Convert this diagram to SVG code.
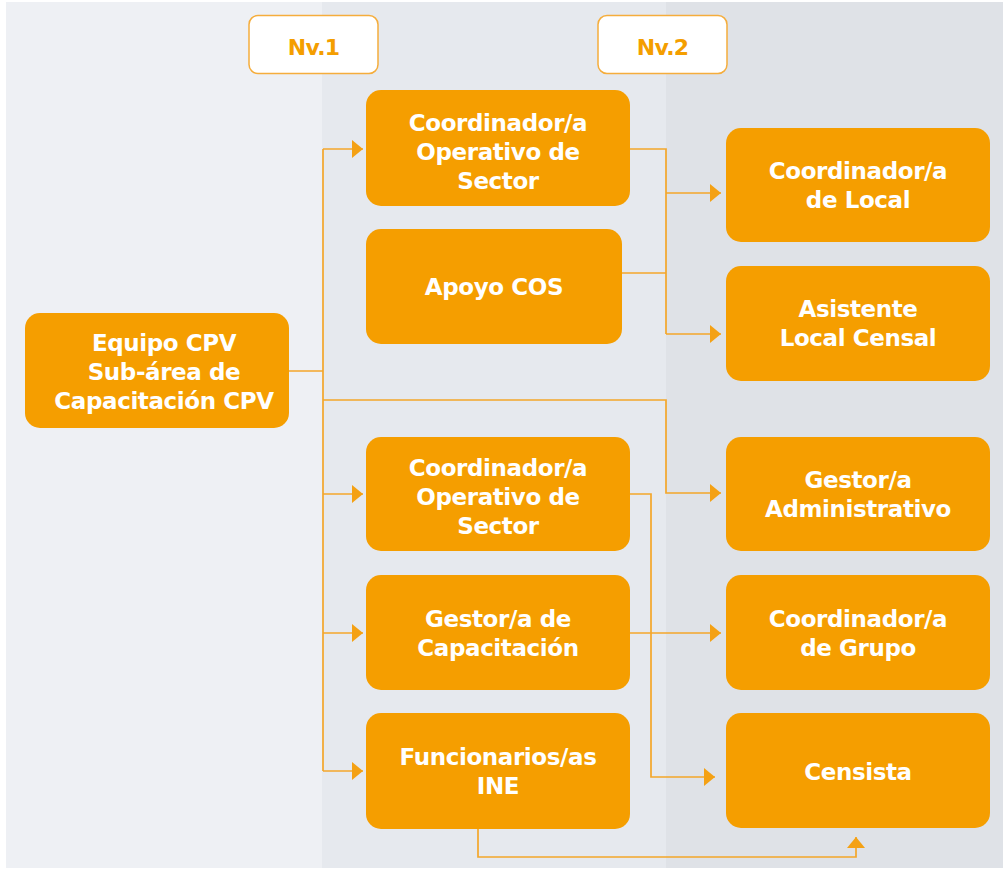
<svg xmlns="http://www.w3.org/2000/svg" width="1003" height="870" viewBox="0 0 1003 870">
  <defs>
    <marker id="arrow" markerUnits="userSpaceOnUse" markerWidth="12" markerHeight="20" refX="11" refY="9" orient="auto">
      <path d="M0,0 L11,9 L0,18 Z" fill="#f4a114"/>
    </marker>
    <style>
      .node rect { fill: #f59e00; }
      .node text { fill: #ffffff; font-family: "DejaVu Sans", "Liberation Sans", sans-serif; font-weight: bold; font-size: 23px; letter-spacing: -0.4px; text-anchor: middle; }
      .level rect { fill: #ffffff; stroke: #f5ad3c; stroke-width: 1.5; }
      .level text { fill: #f49e00; font-family: "DejaVu Sans", "Liberation Sans", sans-serif; font-weight: bold; font-size: 22px; text-anchor: middle; letter-spacing: -0.8px; }
      .links path { fill: none; stroke: #f4a62a; stroke-width: 1.7; }
      .links .arr { marker-end: url(#arrow); }
    </style>
  </defs>

  <!-- column bands -->
  <rect x="0" y="0" width="1003" height="870" fill="#ffffff"/>
  <rect x="6" y="2" width="316" height="866" fill="#eef0f4"/>
  <rect x="322" y="2" width="344" height="866" fill="#e6e9ee"/>
  <rect x="666" y="2" width="337" height="866" fill="#dfe2e7"/>

  <!-- level tags -->
  <g id="nv1" class="level">
    <rect x="249" y="15.5" width="129" height="58" rx="9"/>
    <text x="313.5" y="55">Nv.1</text>
  </g>
  <g id="nv2" class="level">
    <rect x="598" y="15.5" width="129" height="58" rx="9"/>
    <text x="662.5" y="55">Nv.2</text>
  </g>

  <!-- connectors -->
  <g id="connectors" class="links">
    <path d="M289,371 H323"/>
    <path d="M323,149 V771"/>
    <path class="arr" d="M323,149 H363"/>
    <path class="arr" d="M323,494 H363"/>
    <path class="arr" d="M323,633 H363"/>
    <path class="arr" d="M323,771 H363"/>
    <path class="arr" d="M323,400 H666 V493 H721"/>
    <path d="M630,149 H666 V334"/>
    <path class="arr" d="M666,193 H721"/>
    <path class="arr" d="M666,334 H721"/>
    <path d="M622,273 H666"/>
    <path class="arr" d="M630,494 H651 V777 H715"/>
    <path class="arr" d="M630,633 H721"/>
    <path class="arr" d="M478,829 V857 H856 V837"/>
  </g>

  <!-- root -->
  <g id="equipo-cpv" class="node">
    <rect x="25" y="313" width="264" height="115" rx="15"/>
    <text x="164" y="351">Equipo CPV</text>
    <text x="164" y="380">Sub-área de</text>
    <text x="164" y="409">Capacitación CPV</text>
  </g>

  <!-- level 1 -->
  <g id="coordinador-operativo-sector-1" class="node">
    <rect x="366" y="90" width="264" height="116" rx="15"/>
    <text x="498" y="131">Coordinador/a</text>
    <text x="498" y="160">Operativo de</text>
    <text x="498" y="189">Sector</text>
  </g>
  <g id="apoyo-cos" class="node">
    <rect x="366" y="229" width="256" height="115" rx="15"/>
    <text x="494" y="295">Apoyo COS</text>
  </g>
  <g id="coordinador-operativo-sector-2" class="node">
    <rect x="366" y="437" width="264" height="114" rx="15"/>
    <text x="498" y="476">Coordinador/a</text>
    <text x="498" y="505">Operativo de</text>
    <text x="498" y="534">Sector</text>
  </g>
  <g id="gestor-capacitacion" class="node">
    <rect x="366" y="575" width="264" height="115" rx="15"/>
    <text x="498" y="627">Gestor/a de</text>
    <text x="498" y="656">Capacitación</text>
  </g>
  <g id="funcionarios-ine" class="node">
    <rect x="366" y="713" width="264" height="116" rx="15"/>
    <text x="498" y="765">Funcionarios/as</text>
    <text x="498" y="794">INE</text>
  </g>

  <!-- level 2 -->
  <g id="coordinador-local" class="node">
    <rect x="726" y="128" width="264" height="114" rx="15"/>
    <text x="858" y="179">Coordinador/a</text>
    <text x="858" y="208">de Local</text>
  </g>
  <g id="asistente-local-censal" class="node">
    <rect x="726" y="266" width="264" height="115" rx="15"/>
    <text x="858" y="317">Asistente</text>
    <text x="858" y="346">Local Censal</text>
  </g>
  <g id="gestor-administrativo" class="node">
    <rect x="726" y="437" width="264" height="114" rx="15"/>
    <text x="858" y="488">Gestor/a</text>
    <text x="858" y="517">Administrativo</text>
  </g>
  <g id="coordinador-grupo" class="node">
    <rect x="726" y="575" width="264" height="115" rx="15"/>
    <text x="858" y="627">Coordinador/a</text>
    <text x="858" y="656">de Grupo</text>
  </g>
  <g id="censista" class="node">
    <rect x="726" y="713" width="264" height="115" rx="15"/>
    <text x="858" y="780">Censista</text>
  </g>
</svg>
